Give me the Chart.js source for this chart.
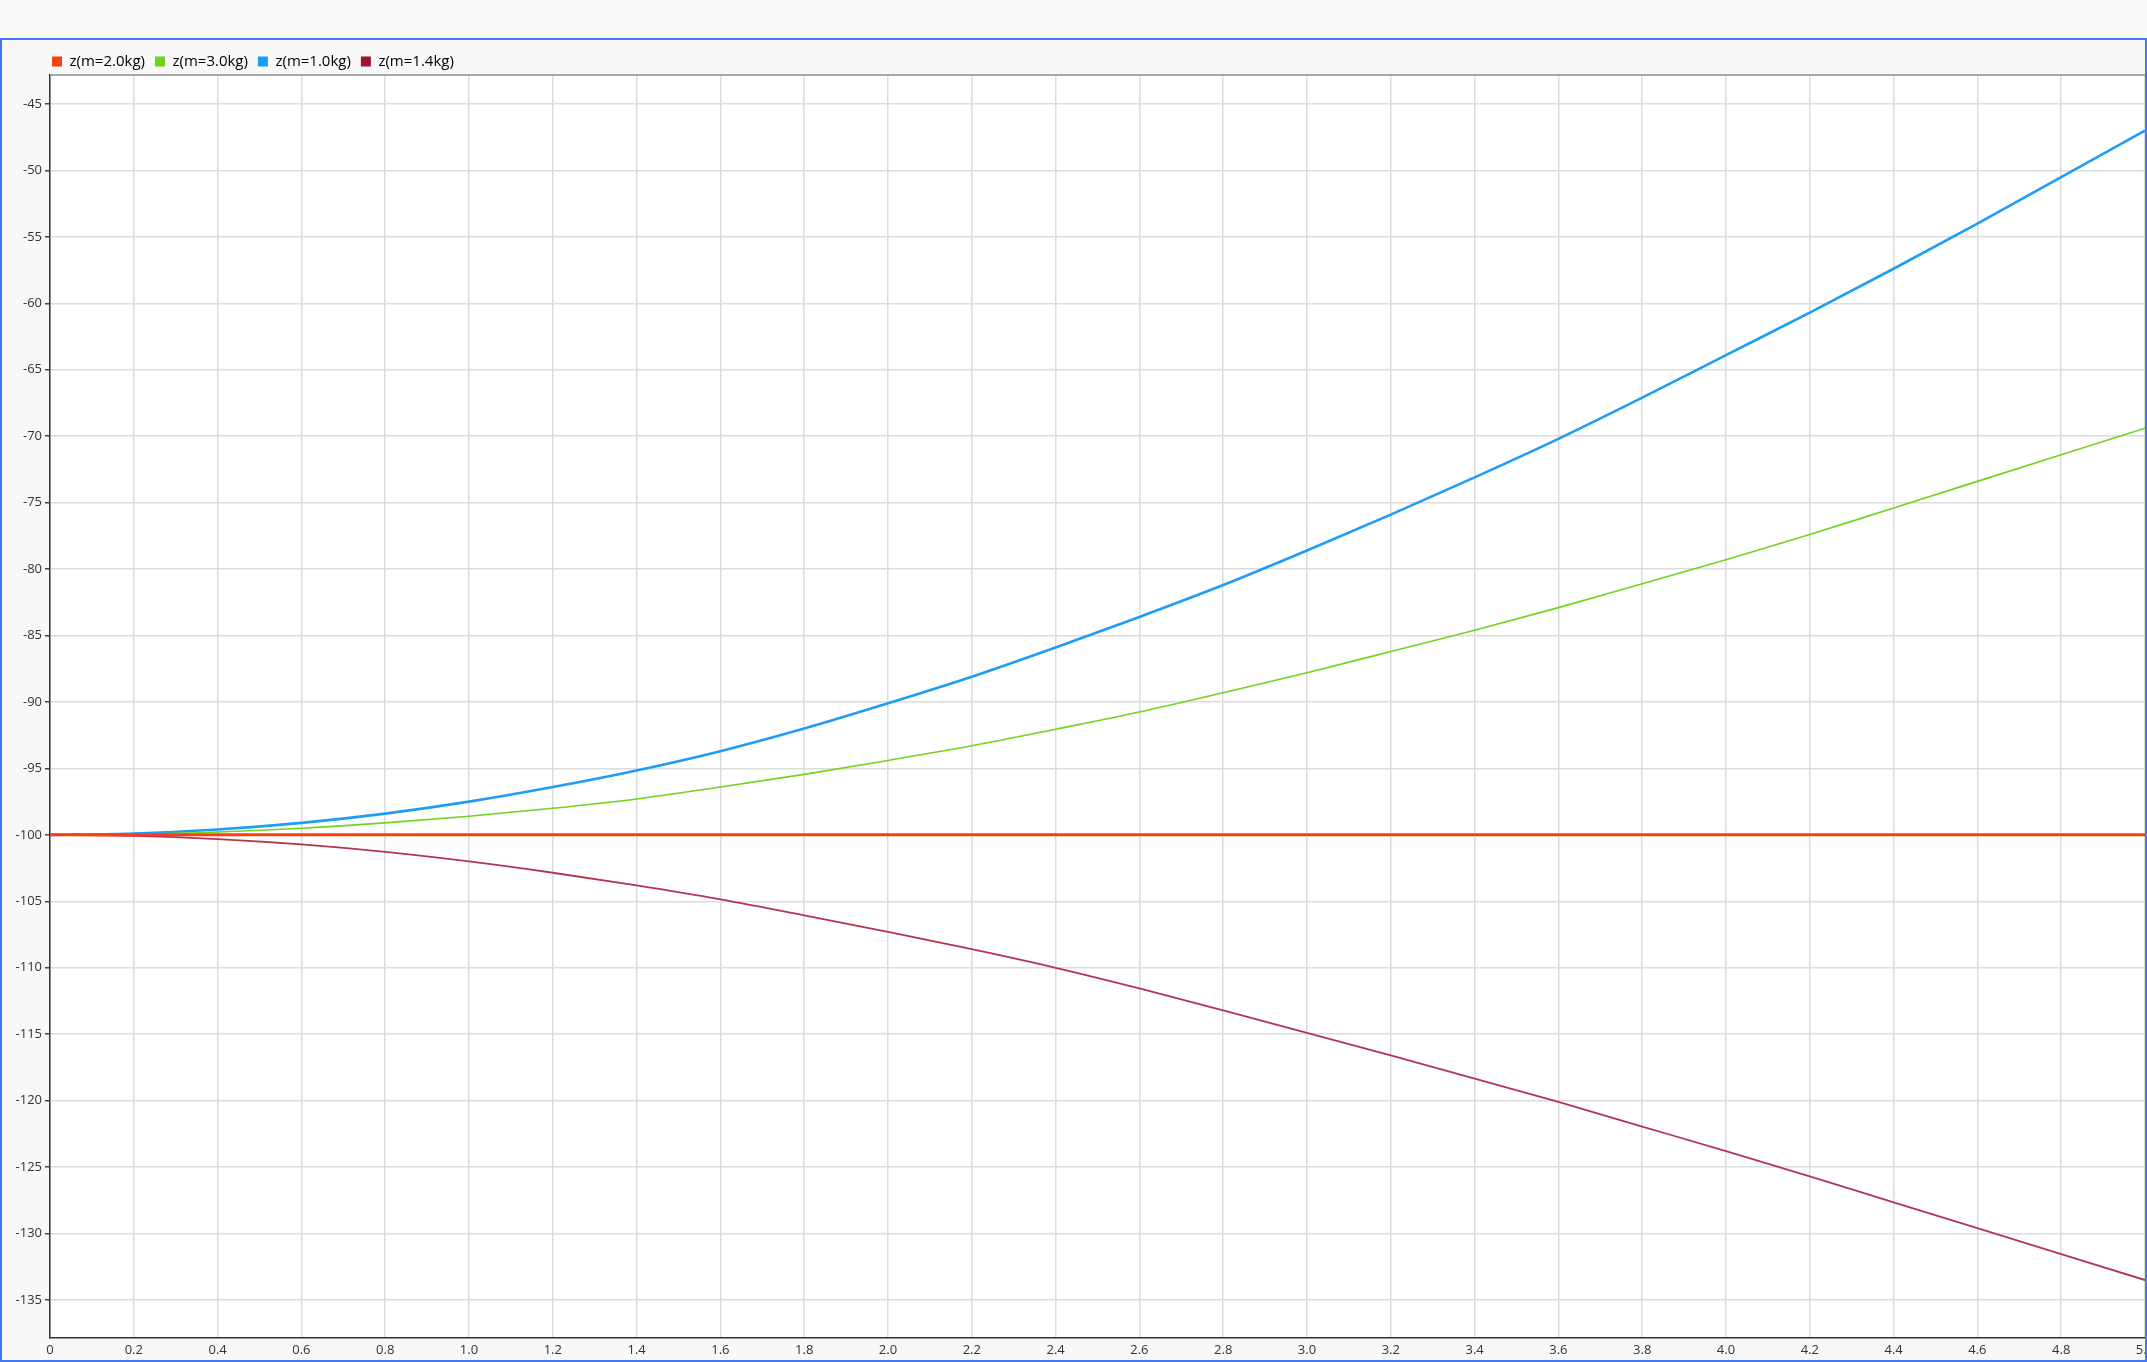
<!DOCTYPE html>
<html>
<head>
<meta charset="utf-8">
<script src="https://cdn.jsdelivr.net/npm/chart.js@4.4.1/dist/chart.umd.min.js"></script>
<style>
  html, body { margin: 0; padding: 0; background: #f9f9f9; }
  #box {
    position: absolute; left: 0; top: 38px;
    width: 2147px; height: 1324px;
    box-sizing: border-box;
    border: 2px solid #4677f2;
    background: #f8f8f8;
    overflow: hidden;
  }
  #wrap { position: relative; width: 2143px; height: 1320px; }
</style>
</head>
<body>
<div id="box"><div id="wrap"><canvas id="line-chart"></canvas></div></div>
<script>
// time axis (s)
var times = [0, 0.2, 0.4, 0.6, 0.8, 1.0, 1.2, 1.4, 1.6, 1.8, 2.0, 2.2, 2.4,
    2.6, 2.8, 3.0, 3.2, 3.4, 3.6, 3.8, 4.0, 4.2, 4.4, 4.6, 4.8, 5.0];

var seriesNames = ['z(m=2.0kg)', 'z(m=3.0kg)', 'z(m=1.0kg)', 'z(m=1.4kg)'];

var zM20 = [-100, -100, -100, -100, -100, -100, -100, -100, -100, -100, -100, -100, -100,
    -100, -100, -100, -100, -100, -100, -100, -100, -100, -100, -100, -100, -100];

var zM30 = [-100, -99.94, -99.78, -99.5, -99.1, -98.6, -98.0, -97.3, -96.4, -95.45, -94.4,
    -93.3, -92.05, -90.75, -89.3, -87.8, -86.2, -84.6, -82.9, -81.1, -79.3, -77.4,
    -75.4, -73.4, -71.4, -69.4];

var zM10 = [-100, -99.9, -99.6, -99.1, -98.4, -97.5, -96.4, -95.15, -93.7, -92.0, -90.1,
    -88.1, -85.9, -83.6, -81.2, -78.6, -75.9, -73.1, -70.2, -67.1, -63.9, -60.7,
    -57.4, -54.0, -50.5, -47.0];

var zM14 = [-100, -100.08, -100.32, -100.72, -101.28, -102.0, -102.85, -103.8, -104.85,
    -106.05, -107.3, -108.6, -110.0, -111.55, -113.2, -114.9, -116.6, -118.35, -120.1,
    -121.95, -123.8, -125.7, -127.65, -129.6, -131.55, -133.5];

var yTickValues = [-135, -130, -125, -120, -115, -110, -105, -100, -95, -90, -85, -80,
    -75, -70, -65, -60, -55, -50, -45];

var lineColors = ['#ff3b14', '#72d31c', '#1f9cf6', '#b3354f'];
var boxColors = ['#ff3d12', '#6fd11a', '#1a9cf7', '#9c1530'];
var lineWidths = [3, 1.6, 2.6, 1.8];

function toPoints(values) {
    return values.map(function (v, i) { return { x: times[i], y: v }; });
}

var allSeries = [zM20, zM30, zM10, zM14];

var datasets = allSeries.map(function (s, i) {
    return {
        label: seriesNames[i],
        data: toPoints(s),
        borderColor: lineColors[i],
        backgroundColor: boxColors[i],
        borderWidth: lineWidths[i],
        pointRadius: 0,
        cubicInterpolationMode: 'monotone',
        fill: false
    };
});

var framePlugin = {
    id: 'frame',
    beforeInit: function (chart) {
        var origFit = chart.legend.fit;
        chart.legend.fit = function () {
            origFit.bind(chart.legend)();
            this.height = 35;
        };
    },
    afterLayout: function (chart) {
        chart.legend.left = 40;
        chart.legend.top = 4;
    },
    beforeDraw: function (chart) {
        var a = chart.chartArea;
        var ctx = chart.ctx;
        ctx.save();
        ctx.fillStyle = '#ffffff';
        ctx.fillRect(a.left, a.top, a.right - a.left, a.bottom - a.top);
        ctx.restore();
    },
    afterDraw: function (chart) {
        var a = chart.chartArea;
        var ctx = chart.ctx;
        ctx.save();
        ctx.strokeStyle = '#8c8c8c';
        ctx.lineWidth = 1.5;
        ctx.beginPath();
        ctx.moveTo(a.left, a.top);
        ctx.lineTo(a.right, a.top);
        ctx.stroke();
        ctx.restore();
    }
};

var lineConfig = {
    type: 'line',
    data: { datasets: datasets },
    options: {
        responsive: true,
        maintainAspectRatio: false,
        animation: false,
        layout: { padding: 0 },
        font: { family: "'Open Sans', 'Noto Sans', sans-serif" },
        plugins: {
            tooltip: { enabled: false },
            legend: {
                position: 'top',
                align: 'start',
                labels: {
                    boxWidth: 10,
                    boxHeight: 10,
                    padding: 10,
                    color: '#333333',
                    font: { size: 15, family: "'Open Sans', 'Noto Sans', sans-serif" },
                    generateLabels: function (chart) {
                        return chart.data.datasets.map(function (ds, i) {
                            return {
                                text: ds.label,
                                fillStyle: boxColors[i],
                                strokeStyle: boxColors[i],
                                lineWidth: 0,
                                datasetIndex: i
                            };
                        });
                    }
                }
            }
        },
        scales: {
            x: {
                type: 'linear',
                min: 0,
                max: 5,
                border: { color: '#333333', width: 1.5 },
                grid: { color: '#dcdcdc', lineWidth: 1.5, drawTicks: false },
                ticks: {
                    stepSize: 0.2,
                    padding: 4,
                    maxRotation: 0,
                    autoSkip: false,
                    color: '#333333',
                    font: { size: 13, family: "'Open Sans', 'Noto Sans', sans-serif" },
                    callback: function (v) {
                        var r = Math.round(v * 10) / 10;
                        return r === 0 ? '0' : r.toFixed(1);
                    }
                },
                afterFit: function (scale) {
                    scale.height = 22;
                    scale.paddingLeft = 0;
                    scale.paddingRight = 0;
                }
            },
            y: {
                type: 'linear',
                min: -137.86,
                max: -42.82,
                border: { color: '#333333', width: 1.5 },
                grid: { color: '#dcdcdc', lineWidth: 1.5, tickLength: 5, tickColor: '#444444' },
                ticks: {
                    padding: 3,
                    color: '#333333',
                    font: { size: 13, family: "'Open Sans', 'Noto Sans', sans-serif" }
                },
                afterBuildTicks: function (scale) {
                    scale.ticks = yTickValues.map(function (v) { return { value: v }; });
                },
                afterFit: function (scale) {
                    scale.width = 48;
                    scale.paddingTop = 0;
                    scale.paddingBottom = 0;
                }
            }
        }
    },
    plugins: [framePlugin]
};

var lineContext = document.getElementById('line-chart').getContext('2d');
window.myLine = new Chart(lineContext, lineConfig);
</script>
</body>
</html>
